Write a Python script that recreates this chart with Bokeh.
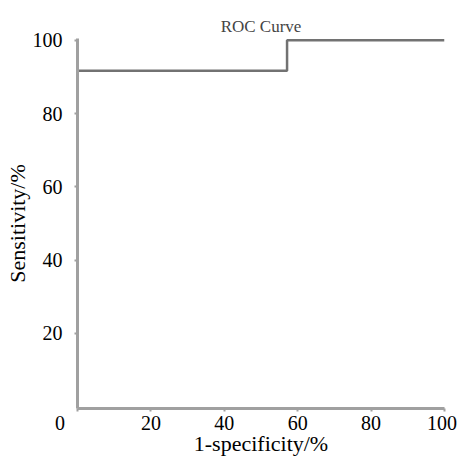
from bokeh.plotting import figure
from bokeh.models import Range1d, FixedTicker
from bokeh.embed import file_html
from bokeh.resources import INLINE

# Data
fpr = [0, 0, 57.1, 57.1, 100]          # 1-specificity, %
tpr = [0, 91.7, 91.7, 100, 100]        # sensitivity, %
x_ticks = [0, 20, 40, 60, 80, 100]
y_ticks = [20, 40, 60, 80, 100]
title_text = "ROC Curve"
x_label = "1-specificity/%"
y_label = "Sensitivity/%"

FONT = "Liberation Serif"
AXIS_COLOR = "#a0a0a0"
LINE_COLOR = "#727272"
NBSP = "\u00a0"

p = figure(width=462, height=458, output_backend="svg", toolbar_location=None,
           x_range=Range1d(0, 100), y_range=Range1d(-0.5, 100.5),
           min_border_left=77, min_border_right=18, min_border_top=38, min_border_bottom=50)

p.grid.visible = False
p.outline_line_color = None
p.background_fill_color = "white"

p.title.text = title_text
p.title.text_font = FONT
p.title.text_font_size = "17px"
p.title.text_font_style = "normal"
p.title.align = "center"
p.title.standoff = 5

for ax in (p.xaxis[0], p.yaxis[0]):
    ax.axis_line_color = AXIS_COLOR
    ax.axis_line_width = 3
    ax.major_tick_line_color = AXIS_COLOR
    ax.major_tick_line_width = 2
    ax.major_tick_out = 3
    ax.major_tick_in = 0
    ax.minor_tick_line_color = None
    ax.major_label_text_font = FONT
    ax.major_label_text_font_size = "20px"
    ax.major_label_text_color = "black"
    ax.axis_label_text_font = FONT
    ax.axis_label_text_font_size = "22px"
    ax.axis_label_text_font_style = "normal"
    ax.axis_label_text_color = "black"

p.xaxis[0].ticker = FixedTicker(ticks=x_ticks)
# the origin "0" sits left of the axis start; the last label sits slightly inward
p.xaxis[0].major_label_overrides = {0: "0" + NBSP * 7, 100: "100" + NBSP}
p.xaxis[0].major_label_standoff = 0
p.xaxis[0].axis_label = x_label
p.xaxis[0].axis_label_standoff = -6
p.xaxis[0].axis_label_text_line_height = 0.8

p.yaxis[0].ticker = FixedTicker(ticks=y_ticks)
p.yaxis[0].major_label_standoff = 12
p.yaxis[0].axis_label = y_label
p.yaxis[0].axis_label_standoff = 0

p.line(fpr, tpr, line_color=LINE_COLOR, line_width=2.5)

open("out.html", "w").write(file_html(p, INLINE))
